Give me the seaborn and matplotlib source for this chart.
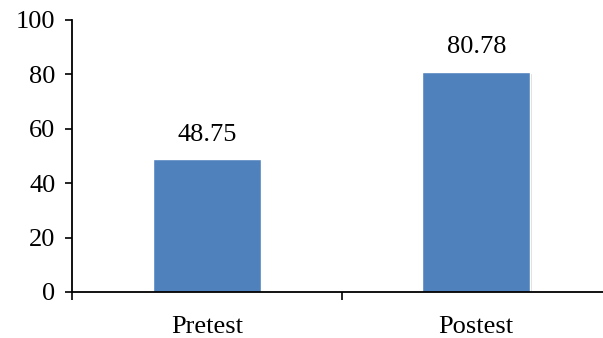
import matplotlib
matplotlib.use("Agg")
import matplotlib.pyplot as plt
import matplotlib.patheffects as pe
from matplotlib.ticker import FixedLocator
import seaborn as sns
import pandas as pd

categories = ["Pretest", "Postest"]
scores = [48.75, 80.78]
y_ticks = [0, 20, 40, 60, 80, 100]

sns.set_style("white")
plt.rcParams["font.family"] = ["Liberation Serif", "DejaVu Serif"]
plt.rcParams["text.color"] = "black"
plt.rcParams["xtick.color"] = "black"
plt.rcParams["ytick.color"] = "black"
plt.rcParams["xtick.labelcolor"] = "black"
plt.rcParams["ytick.labelcolor"] = "black"

FS = 19

df = pd.DataFrame({"group": categories, "score": scores})

fig = plt.figure(figsize=(6.03, 3.38), dpi=100)
ax = fig.add_axes([72 / 603, 46 / 338, 539 / 603, 272 / 338])

sns.barplot(data=df, x="group", y="score", color="#4F81BD", saturation=1,
            width=0.4, ax=ax)

for bar in ax.patches:
    bar.set_path_effects([pe.SimplePatchShadow(offset=(1, -1), shadow_rgbFace="#999999", alpha=0.35),
                          pe.Normal()])

for i, v in enumerate(scores):
    ax.annotate(f"{v:.2f}", xy=(i, v), xytext=(0, 10), textcoords="offset points",
                ha="center", va="bottom", fontsize=FS, color="black")

ax.set_xlim(-0.5, 1.5)
ax.set_ylim(0, 100)
ax.set_yticks(y_ticks)
ax.set_yticklabels([str(t) for t in y_ticks], fontsize=FS)

# category boundaries carry the tick marks, labels sit between them
ax.xaxis.set_major_locator(FixedLocator([-0.5, 0.5, 1.5]))
ax.set_xticklabels(["", "", ""])
ax.xaxis.set_minor_locator(FixedLocator([0, 1]))
ax.set_xticklabels(categories, minor=True, fontsize=FS)
ax.tick_params(axis="x", which="minor", length=0, pad=17)
ax.tick_params(axis="x", which="major", direction="out", length=5.5, width=1.2,
               color="black", bottom=True)
ax.tick_params(axis="y", direction="out", length=5, width=1.2, color="black",
               left=True, pad=7)

ax.set_xlabel("")
ax.set_ylabel("")
for side in ["top", "right"]:
    ax.spines[side].set_visible(False)
for side in ["left", "bottom"]:
    ax.spines[side].set_color("black")
    ax.spines[side].set_linewidth(1.3)

fig.savefig("out.png", dpi=100)
